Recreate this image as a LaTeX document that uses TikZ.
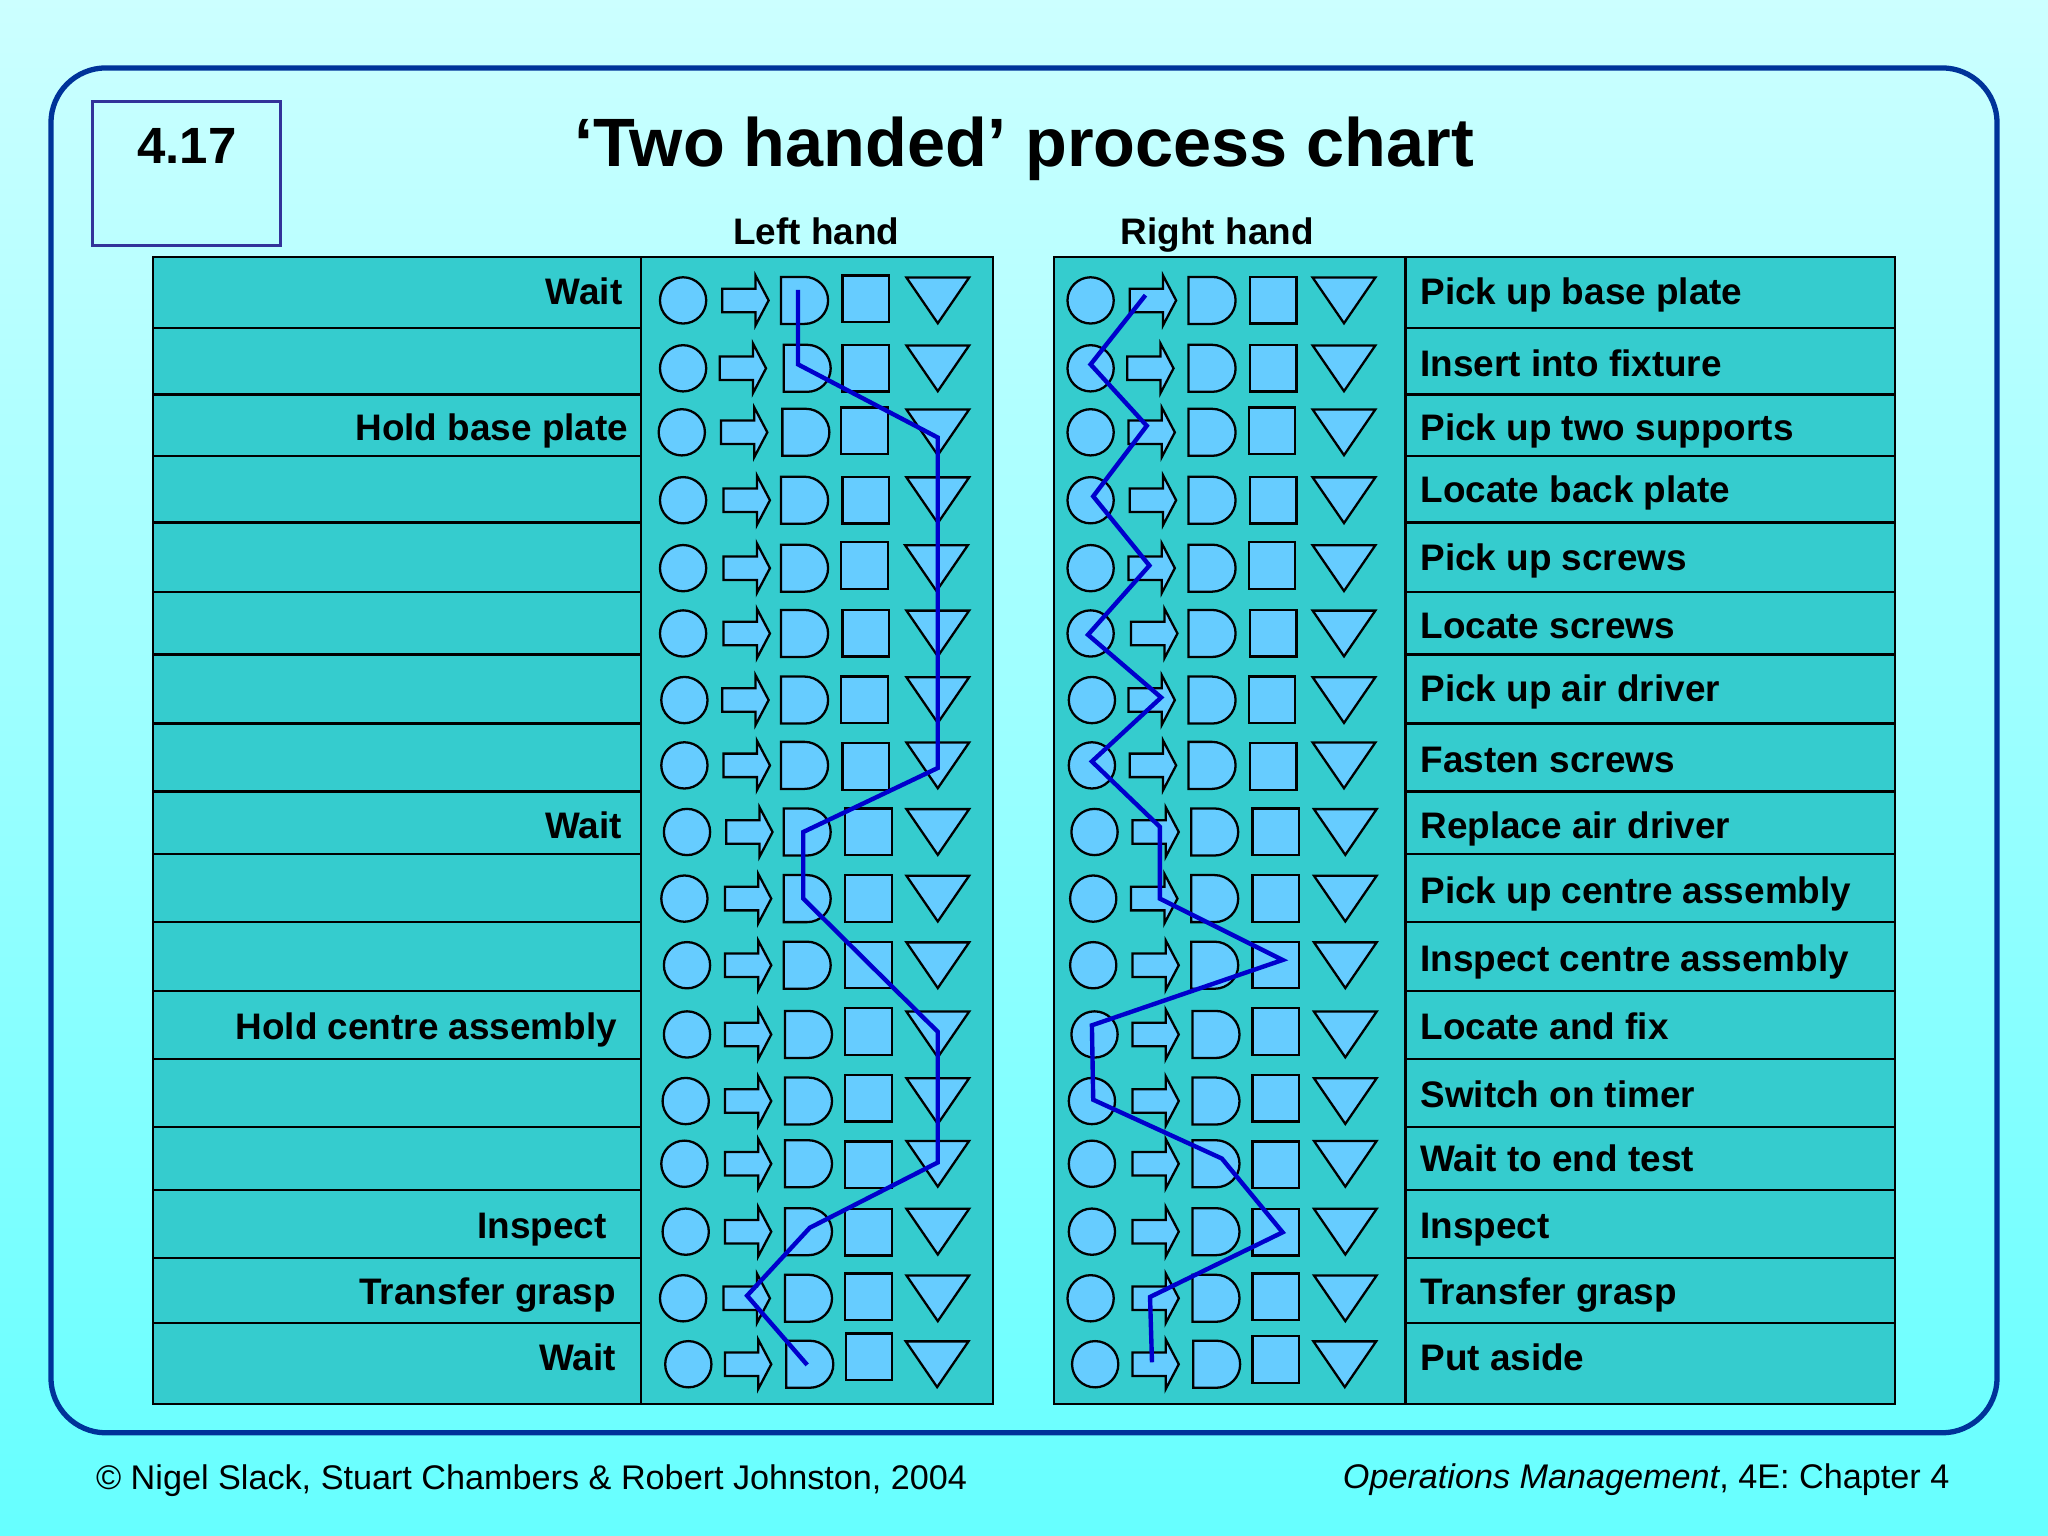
\documentclass[tikz,border=0pt]{standalone}
\usepackage{fontspec}
\setmainfont{Liberation Sans}
\usepackage{tikz}
\definecolor{frameblue}{HTML}{003399}
\definecolor{boxblue}{HTML}{333399}
\definecolor{tablefill}{HTML}{35CCCE}
\definecolor{symfill}{HTML}{66CCFF}
\definecolor{handblue}{HTML}{0000CC}
\tikzset{
  symb/.style={draw=black,fill=symfill,line width=0.65pt},
  tablebox/.style={draw=black,fill=tablefill,line width=0.65pt},
  rowline/.style={draw=black,line width=0.65pt},
  handline/.style={draw=handblue,line width=1.25pt,line join=miter},
  rowlabel/.style={inner sep=0pt,text height=7.5pt,text depth=0pt,font=\fontsize{10.5}{12}\selectfont\bfseries},
  footlabel/.style={inner sep=0pt,text height=7pt,text depth=0pt,font=\fontsize{9.73}{12}\selectfont}
}
\begin{document}
\begin{tikzpicture}[x=0.0130612cm,y=-0.0130612cm]
	\shade[top color=white!80!cyan,bottom color=cyan!60!white] (0,0) rectangle (1568,1176);
	\useasboundingbox (0,0) rectangle (1568,1176);
	\draw[frameblue,line width=1.5pt,rounded corners=0.55cm] (39,52) rectangle (1529,1097);
	\draw[boxblue,line width=0.85pt] (71,78) rectangle (215,188);
	\node[inner sep=0pt,font=\fontsize{14.5}{16}\selectfont\bfseries] (fignum) at (143,112) {4.17};
	\node[inner sep=0pt,text height=13.9pt,text depth=0pt,font=\fontsize{19.47}{22}\selectfont\bfseries] (title) at (784,109) {‘Two handed’ process chart};
	\node[rowlabel] (lefthead) at (625,177) {Left hand};
	\node[rowlabel] (righthead) at (932,177) {Right hand};
	% table panels
	\draw[tablebox] (117,197) rectangle (760,1075);
	\draw[tablebox] (807,197) rectangle (1451,1075);
	\draw[rowline] (491,197) -- (491,1075);
	\draw[rowline] (1076,197) -- (1076,1075);
	\foreach \yl in {251,302,349,400,453,501,554,606,654,706,759,811,863,911,963,1013} {
		\draw[rowline] (117,\yl) -- (491,\yl);
		\draw[rowline] (1076,\yl) -- (1451,\yl);
	}
	% labels
	\foreach \n/\xl/\yl/\txt in {a/477/223/Wait,b/481.5/327/Hold base plate,c/476.5/632/Wait,d/473/786/Hold centre assembly,e/465/938/Inspect,f/472/989/Transfer grasp,g/472/1039/Wait}
		\node[rowlabel,anchor=east] (lt\n) at (\xl,\yl) {\txt};
	\foreach \n/\yl/\txt in {a/223/Pick up base plate,b/278/Insert into fixture,c/327/Pick up two supports,d/375/Locate back plate,e/427/Pick up screws,f/479/Locate screws,g/527/Pick up air driver,h/581/Fasten screws,i/632/Replace air driver,j/682/Pick up centre assembly,k/734/Inspect centre assembly,l/786/Locate and fix,m/838/Switch on timer,n/887/Wait to end test,o/938/Inspect,p/989/Transfer grasp,q/1039/Put aside}
		\node[rowlabel,anchor=west] (rt\n) at (1087,\yl) {\txt};
	% symbols: circle, arrow, D, square (x,y), triangle
	\foreach \xc/\xa/\xd/\xs/\ys/\xt/\yr in {
		523/553/598/645/229/694/230, 523/551/600/645/282/694/282, 522/552/599/644/330/694/331,
		523/554/598/645/383/694/383, 523/554/598/644/433/693/435, 523/554/598/645/485/694/485,
		524/553/598/644/536/694/536, 524/554/598/645/587/694/586, 526/556/600/647/637/694/637,
		524/555/600/647/688/694/688, 526/555/600/647/739/694/739, 526/555/601/647/790/694/792,
		525/555/601/647/841/694/843, 524/555/601/647/892/694/891, 525/555/601/647/943.5/694/943,
		523/554/601/647/993/694/994, 527/555/602/647.5/1039/693.5/1044.5,
		835/865/910/957/230/1005/230, 835/863/910/957/282/1005/282, 835/864/910/956/330/1005/331,
		835/865/910/957/383/1005/383, 835/864/910/956/433/1005/435, 835/866/910/957/485/1005/485,
		836/864/910/956/536/1005/536, 836/865/910/957/587/1005/586, 838/867/912/959/637/1006/637,
		837/866/912/959/688/1006/688, 837/867/912/959/739/1006/739, 838/867/913/959/790/1006/792,
		836/867/913/959/841/1006/843, 836/867/913/959/892/1006/891, 836/867/913/959/943.5/1006/943,
		835/867/913/959/993/1006/994, 838.5/867/913.5/959/1041/1005.6/1044.5} {
		\draw[symb] (\xc,\yr) circle[radius=17.7];
		\draw[symb] (\xa,\yr-9) -- ++(25.5,0) -- ++(0,-10) -- ++(10,19) -- ++(-10,19) -- ++(0,-10) -- ++(-25.5,0) -- cycle;
		\draw[symb] (\xd,\yr-18) -- ++(18,0) arc[start angle=-90,end angle=90,radius=18] -- ++(-18,0) -- cycle;
		\draw[symb] (\xs,\ys-18) rectangle ++(35.7,35.7);
		\draw[symb] (\xt,\yr-17.5) -- ++(48,0) -- ++(-24,35) -- cycle;
	}
	% hand paths
	\foreach \n/\px/\py in {1/611/222,2/611/279,3/718/335,4/718/588,5/615/637,6/615/688,7/718/790,8/718/890,9/620/940,10/572/992,11/618/1045}
		\coordinate (lp\n) at (\px,\py);
	\foreach \n/\px/\py in {1/877/226,2/835/279,3/878/326,4/837/380,5/880/433,6/833/486,7/889/534,8/836/583,9/888/633,10/888/688,11/982/735,12/836/785,13/837/842,14/935.5/887,15/982/943.5,16/880.5/993,17/882/1043}
		\coordinate (rp\n) at (\px,\py);
	\draw[handline] (lp1) \foreach \n in {2,...,11} {-- (lp\n)};
	\draw[handline] (rp1) \foreach \n in {2,...,17} {-- (rp\n)};
	% footer
	\node[footlabel,anchor=west] (copyr) at (73,1131) {© Nigel Slack, Stuart Chambers \& Robert Johnston, 2004};
	\node[footlabel,anchor=east] (source) at (1493,1130) {\textit{Operations Management}, 4E: Chapter 4};
\end{tikzpicture}
\end{document}
